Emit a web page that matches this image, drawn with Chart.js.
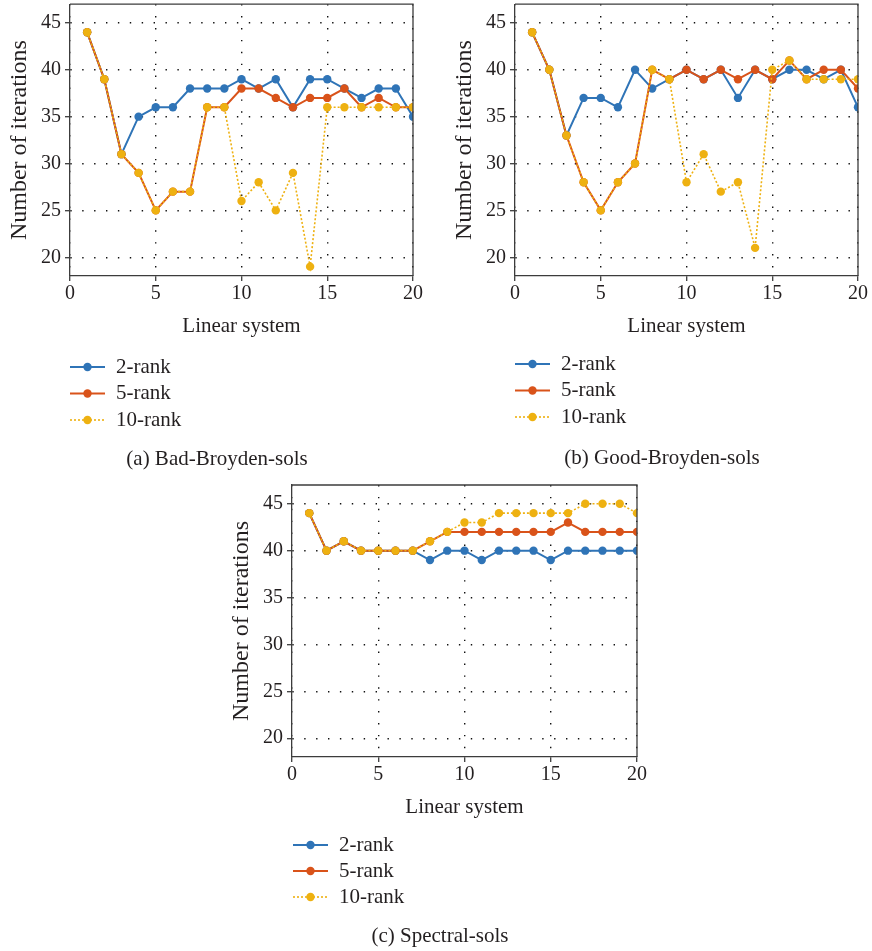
<!DOCTYPE html>
<html>
<head>
<meta charset="utf-8">
<script src="https://cdn.jsdelivr.net/npm/chart.js@4/dist/chart.umd.min.js"></script>
<style>
  html, body { margin: 0; padding: 0; background: #fff; overflow: hidden; }
  #wrap { position: relative; width: 872px; height: 951px; }
  canvas { position: absolute; }
</style>
</head>
<body>
<div id="wrap">
  <canvas id="chartA" width="436" height="475" style="left:0px;top:0px"></canvas>
  <canvas id="chartB" width="427" height="475" style="left:445px;top:0px"></canvas>
  <canvas id="chartC" width="436" height="476" style="left:222px;top:475px"></canvas>
</div>
<script>
// ---------- data ----------
const linearSystems = [1,2,3,4,5,6,7,8,9,10,11,12,13,14,15,16,17,18,19,20];
const seriesNames = ['2-rank', '5-rank', '10-rank'];
const xTickValues = [0, 5, 10, 15, 20];
const yTickValues = [20, 25, 30, 35, 40, 45];
const xAxisTitle = 'Linear system';
const yAxisTitle = 'Number of iterations';

const badTwoRank  = [44,39,31,35,36,36,38,38,38,39,38,39,36,39,39,38,37,38,38,35];
const badFiveRank = [44,39,31,29,25,27,27,36,36,38,38,37,36,37,37,38,36,37,36,36];
const badTenRank  = [44,39,31,29,25,27,27,36,36,26,28,25,29,19,36,36,36,36,36,36];

const goodTwoRank  = [44,40,33,37,37,36,40,38,39,40,39,40,37,40,39,40,40,39,40,36];
const goodFiveRank = [44,40,33,28,25,28,30,40,39,40,39,40,39,40,39,41,39,40,40,38];
const goodTenRank  = [44,40,33,28,25,28,30,40,39,28,31,27,28,21,40,41,39,39,39,39];

const specTwoRank  = [44,40,41,40,40,40,40,39,40,40,39,40,40,40,39,40,40,40,40,40];
const specFiveRank = [44,40,41,40,40,40,40,41,42,42,42,42,42,42,42,43,42,42,42,42];
const specTenRank  = [44,40,41,40,40,40,40,41,42,43,43,44,44,44,44,44,45,45,45,44];

const captionA = '(a) Bad-Broyden-sols';
const captionB = '(b) Good-Broyden-sols';
const captionC = '(c) Spectral-sols';

// ---------- styles ----------
const FONT = '"Liberation Serif", "Times New Roman", serif';
const TEXT = '#231f20';
const AXIS = '#3c3c3c';
const colors = ['#2f74b7', '#d9531a', '#eeb111'];
const widths = [2, 2, 1.6];
const dashes = [[], [], [2, 2]];
const orders = [2, 1, 0];

function makeDatasets(series) {
  return series.map((vals, i) => ({
    label: seriesNames[i],
    data: linearSystems.map((x, k) => ({ x: x, y: vals[k] })),
    borderColor: colors[i],
    backgroundColor: colors[i],
    pointBackgroundColor: colors[i],
    pointBorderColor: colors[i],
    pointBorderWidth: 0,
    pointRadius: 4.2,
    borderWidth: widths[i],
    borderDash: dashes[i],
    tension: 0,
    order: orders[i]
  }));
}

const framePlugin = {
  id: 'frameLegendCaption',
  afterDraw(chart, args, opts) {
    const ctx = chart.ctx;
    const a = chart.chartArea;
    ctx.save();
    // top & right frame
    ctx.strokeStyle = AXIS;
    ctx.lineWidth = 1.3;
    ctx.setLineDash([]);
    ctx.beginPath();
    ctx.moveTo(a.left, a.top);
    ctx.lineTo(a.right, a.top);
    ctx.lineTo(a.right, a.bottom);
    ctx.stroke();
    // legend
    ctx.font = '21px ' + FONT;
    ctx.textBaseline = 'middle';
    ctx.textAlign = 'left';
    chart.data.datasets.forEach((ds, i) => {
      const y = opts.legendY + i * opts.legendGap;
      ctx.strokeStyle = ds.borderColor;
      ctx.lineWidth = ds.borderWidth;
      ctx.setLineDash(ds.borderDash);
      ctx.beginPath();
      ctx.moveTo(opts.legendX, y);
      ctx.lineTo(opts.legendX + 35, y);
      ctx.stroke();
      ctx.setLineDash([]);
      ctx.fillStyle = ds.borderColor;
      ctx.beginPath();
      ctx.arc(opts.legendX + 17.5, y, 4.2, 0, Math.PI * 2);
      ctx.fill();
      ctx.fillStyle = TEXT;
      ctx.fillText(ds.label, opts.legendX + 46, y);
    });
    // caption
    ctx.textAlign = 'center';
    ctx.fillStyle = TEXT;
    ctx.fillText(opts.caption, opts.captionX, opts.captionY);
    ctx.restore();
  }
};

function zeroPad(s) {
  s.paddingTop = 0; s.paddingBottom = 0; s.paddingLeft = 0; s.paddingRight = 0;
}

function makeChart(id, series, layout) {
  const ctx = document.getElementById(id);
  return new Chart(ctx, {
    type: 'line',
    data: { datasets: makeDatasets(series) },
    plugins: [framePlugin],
    options: {
      responsive: false,
      animation: false,
      events: [],
      layout: { padding: { left: 0, top: layout.top, right: layout.right, bottom: layout.bottom } },
      plugins: {
        legend: { display: false },
        tooltip: { enabled: false },
        frameLegendCaption: layout.extra
      },
      scales: {
        x: {
          type: 'linear',
          min: 0, max: 20,
          afterBuildTicks: s => { s.ticks = xTickValues.map(v => ({ value: v })); },
          afterFit: s => { s.height = 63; zeroPad(s); },
          ticks: { color: TEXT, font: { family: FONT, size: 20 }, padding: 1, maxRotation: 0 },
          grid: {
            color: '#111', lineWidth: 1.4,
            drawTicks: true, tickLength: 5, tickColor: AXIS, tickWidth: 1.3
          },
          border: { display: true, color: AXIS, width: 1.3, dash: [1.4, 10.5] },
          title: { display: true, text: xAxisTitle, color: TEXT, font: { family: FONT, size: 21 }, padding: { top: 0, bottom: 0 } }
        },
        y: {
          type: 'linear',
          min: 18, max: 47,
          afterBuildTicks: s => { s.ticks = yTickValues.map(v => ({ value: v })); },
          afterFit: s => { s.width = 70; zeroPad(s); },
          ticks: { color: TEXT, font: { family: FONT, size: 20 }, padding: 4 },
          grid: {
            color: '#111', lineWidth: 1.4,
            drawTicks: true, tickLength: 5, tickColor: AXIS, tickWidth: 1.3
          },
          border: { display: true, color: AXIS, width: 1.3, dash: [1.4, 10.5] },
          title: { display: true, text: yAxisTitle, color: TEXT, font: { family: FONT, size: 24 }, padding: { top: 5, bottom: 0 } }
        }
      }
    }
  });
}

makeChart('chartA', [badTwoRank, badFiveRank, badTenRank], {
  top: 3, right: 23, bottom: 475 - 276 - 63,
  extra: { legendX: 70, legendY: 367, legendGap: 26.5, caption: captionA, captionX: 217, captionY: 459 }
});
makeChart('chartB', [goodTwoRank, goodFiveRank, goodTenRank], {
  top: 3, right: 14, bottom: 475 - 276 - 63,
  extra: { legendX: 70, legendY: 364, legendGap: 26.5, caption: captionB, captionX: 217, captionY: 458 }
});
makeChart('chartC', [specTwoRank, specFiveRank, specTenRank], {
  top: 10, right: 21, bottom: 476 - 282 - 63,
  extra: { legendX: 71, legendY: 370, legendGap: 26, caption: captionC, captionX: 218, captionY: 461 }
});
</script>
</body>
</html>
